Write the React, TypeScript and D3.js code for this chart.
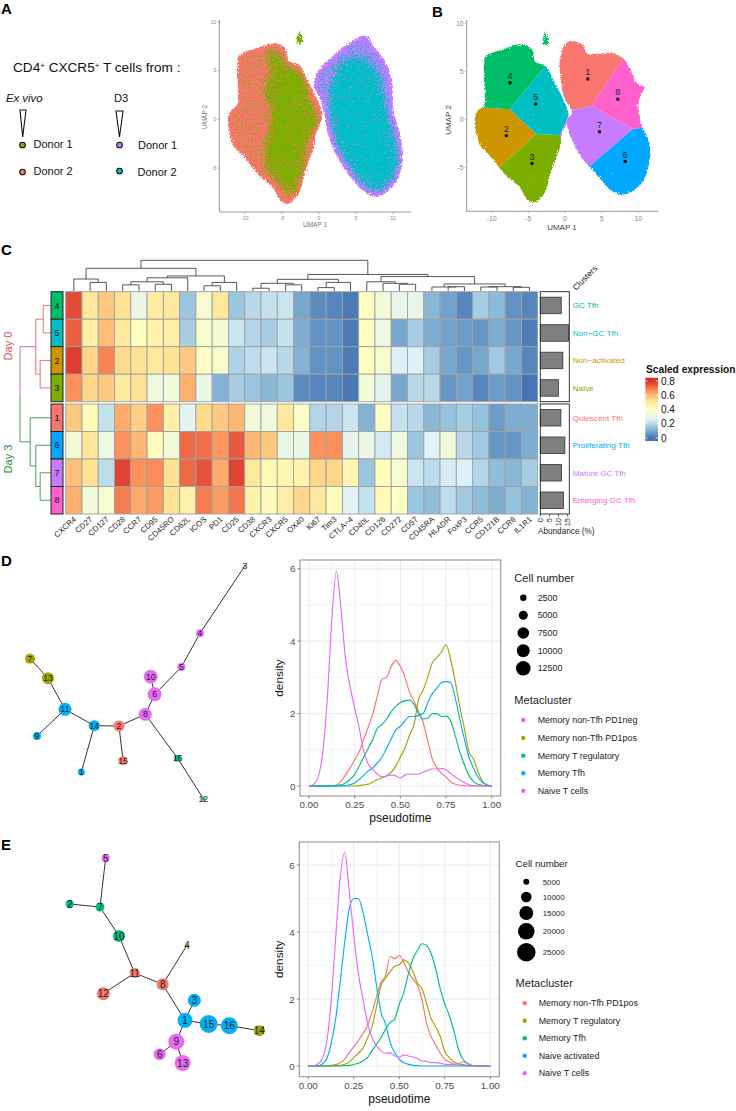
import * as d3 from 'd3'

const FONT = '"Liberation Sans", Arial, sans-serif'

const leftBlob: [number, number][] = [
  [-10.86, 6.53], [-8.82, 7.22], [-6.09, 7.85], [-4.5, 7.4], [-4.05, 6], [-2.68, 5.66], [-1.55, 4.1], [-0.41, 2.36],
  [0.5, 0.45], [-0.41, -1.63], [-0.64, -2.85], [-1.77, -5.28], [-2.9, -7.88], [-4.27, -8.75], [-5.41, -8.23],
  [-6.09, -7.19], [-8.14, -5.8], [-10.18, -3.89], [-11.77, -2.5], [-12.2, 0.63], [-11.09, 1.49], [-11.09, 4.44],
]
const rightBlobB: [number, number][] = [
  [-0.73, 6.35], [0.27, 8.09], [2.55, 7.74], [3, 6.88], [6.64, 6.94], [8, 6.35], [9.36, 4.62], [9.82, 3.75], [10.95, 3.4],
  [10.27, 2.36], [10.05, 1.32], [10.5, -0.59], [11.41, -2.15], [11.64, -3.89], [10.5, -6.67], [8, -7.88], [6.18, -7.36],
  [4.14, -5.63], [2.09, -3.89], [0.73, -1.8], [0.27, -0.07], [0.95, 0.63], [-0.18, 2.36], [-0.64, 4.44],
]
const rightBlobA: [number, number][] = [
  [-0.27, 4.88], [1.97, 6.6], [4.23, 7.97], [6.49, 8.66], [7.16, 7.8], [8.73, 6.26], [9.86, 4.2], [10.08, 0.93], [10.99, -1.47],
  [11.35, -4.23], [10.31, -6.63], [7.84, -8], [5.58, -7.14], [2.43, -3.88], [1.3, -1.82], [0.18, 1.96], [-0.73, 3.33],
]
const oliveShape: [number, number][] = [
  [-7.93, 6.25], [-6.13, 7.8], [-4.55, 7.1], [-4.33, 5.9], [-2.3, 5.4], [-1.18, 4], [-0.5, 1.96], [0.54, 0.24], [0.18, -0.96],
  [-0.95, -2.16], [-1.18, -4.57], [-2.08, -6.29], [-2.97, -8.35], [-4.33, -8.52], [-5.23, -7.32], [-7.49, -5.6], [-7.93, -2.85],
  [-7.03, 0.59], [-8.16, 2.99], [-7.03, 5.39],
]
const tealShape: [number, number][] = [
  [2.88, 6.42], [6.49, 6.77], [8.73, 4.36], [9.64, 1.27], [10.54, -1.48], [11.22, -4.23], [10.08, -6.63], [7.84, -7.84],
  [5.81, -6.98], [2.43, -3.54], [1.53, -1.47], [0.85, 1.96], [1.53, 4.71],
]
const island: [number, number][] = [[-2.75, 9.4], [-2.3, 8.6], [-2.1, 8], [-2.6, 7.6], [-3.1, 7.8], [-2.95, 8.8]]

const clusterIds = [1, 2, 3, 4, 5, 6, 7, 8]
const clusterX = [3.1, -8, -4.5, -7.5, -4, 8.2, 4.7, 7.2]
const clusterY = [4.2, -1.7, -4.6, 3.8, 1.6, -4.4, -1.3, 2.1]
const clusterColors = ['#F8766D', '#CD9600', '#7CAE00', '#00BE67', '#00BFC4', '#00A9FF', '#C77CFF', '#FF61CC']
const umapXTicks = [-10, -5, 0, 5, 10]
const umapYTicks = [-5, 0, 5, 10]

// ---- heatmap
const markers = ['CXCR4', 'CD27', 'CD127', 'CD28', 'CCR7', 'CD95', 'CD45RO', 'CD62L', 'ICOS', 'PD1', 'CD25', 'CD38', 'CXCR3', 'CXCR5',
  'OX40', 'Ki67', 'Tim3', 'CTLA−4', 'CD40L', 'CD126', 'CD272', 'CD57', 'CD45RA', 'HLADR', 'FoxP3', 'CCR5', 'CD121B', 'CCR6', 'IL1R1']
const day0Rows = [4, 5, 2, 3]
const day3Rows = [1, 6, 7, 8]
const expr4 = [.76, .5, .57, .52, .31, .48, .5, .15, .36, .5, .15, .2, .22, .23, .09, .04, .03, .01, .39, .34, .3, .3, .12, .08, .03, .17, .125, .05, .03]
const expr5 = [.73, .47, .59, .5, .4, .45, .47, .17, .37, .35, .23, .19, .17, .22, .1, .05, .05, .01, .39, .32, .09, .17, .1, .08, .07, .06, .1, .06, .015]
const expr2 = [.78, .55, .68, .54, .52, .5, .52, .57, .39, .37, .18, .21, .23, .2, .11, .05, .05, .01, .4, .36, .26, .26, .17, .09, .06, .09, .16, .09, .03]
const expr3 = [.66, .55, .57, .49, .52, .33, .34, .61, .31, .11, .17, .15, .12, .15, .04, .03, .03, .005, .34, .29, .09, .2, .2, .06, .08, .03, .07, .05, 0]
const expr1 = [.57, .42, .22, .62, .56, .66, .47, .28, .54, .57, .6, .35, .33, .5, .38, .19, .19, .23, .11, .39, .22, .2, .12, .14, .17, .14, .07, .1, .1]
const expr6 = [.35, .51, .32, .66, .6, .41, .34, .72, .71, .65, .74, .6, .57, .31, .31, .66, .66, .29, .31, .24, .33, .15, .27, .34, .2, .16, .06, .06, .1]
const expr7 = [.58, .52, .21, .77, .66, .67, .52, .72, .75, .62, .77, .5, .43, .44, .45, .55, .55, .44, .15, .41, .36, .23, .21, .25, .26, .19, .13, .12, .17]
const expr8 = [.61, .34, .36, .69, .62, .64, .52, .46, .69, .64, .7, .46, .42, .47, .55, .5, .41, .27, .22, .42, .39, .15, .13, .21, .16, .13, .1, .14, .11]
const expression: Record<number, number[]> = { 1: expr1, 2: expr2, 3: expr3, 4: expr4, 5: expr5, 6: expr6, 7: expr7, 8: expr8 }
const abundance: Record<number, number> = { 4: 11.5, 5: 15.5, 2: 12.4, 3: 10, 1: 11.3, 6: 13.5, 7: 11.7, 8: 12.8 }
const clusterNames: Record<number, string> = {
  4: 'GC Tfh', 5: 'Non−GC Tfh', 2: 'Non−activated', 3: 'Naïve', 1: 'Quiescent Tfh', 6: 'Proliferating Tfh', 7: 'Mature GC Tfh', 8: 'Emerging GC Tfh',
}
const abundanceTicks = [0, 5, 10, 15]
const legendTicks = [0, 0.2, 0.4, 0.6, 0.8]
const rdYlBu = ['#4575b4', '#91bfdb', '#e0f3f8', '#ffffbf', '#fee090', '#fc8d59', '#d73027']

// dendrograms: merge height + two children, leaves are names
type Tree = { name?: string | number; h: number; children?: Tree[]; pos?: number }
const lf = (name: string | number): Tree => ({ name, h: 0 })
const mg = (h: number, a: Tree, b: Tree): Tree => ({ h, children: [a, b] })

const colTree = mg(1,
  mg(.74,
    mg(.39, lf('CXCR4'), mg(.28, lf('CD27'), lf('CD127'))),
    mg(.49,
      mg(.43, mg(.3, mg(.2, lf('CD28'), lf('CCR7')), mg(.22, lf('CD95'), lf('CD45RO'))), lf('CD62L')),
      mg(.28, mg(.17, lf('ICOS'), lf('PD1')), lf('CD25')))),
  mg(.54,
    mg(.38,
      mg(.25, mg(.09, lf('CD38'), lf('CXCR3')), mg(.2, lf('CXCR5'), lf('OX40'))),
      mg(.28, mg(.11, lf('Ki67'), lf('Tim3')), lf('CTLA−4'))),
    mg(.47,
      mg(.3, lf('CD40L'), mg(.25, lf('CD126'), mg(.22, lf('CD272'), lf('CD57')))),
      mg(.23,
        mg(.13, lf('CD45RA'), mg(.14, lf('HLADR'), lf('FoxP3'))),
        mg(.14, mg(.13, lf('CCR5'), lf('CD121B')), mg(.12, lf('CCR6'), lf('IL1R1')))))))
const day0Tree = mg(.49, mg(.25, lf(4), lf(5)), mg(.35, lf(2), lf(3)))
const day3Tree = mg(.67, lf(1), mg(.49, lf(6), mg(.35, lf(7), lf(8))))

// ---- trajectory networks (layout units)
const metaRed = '#F8766D', metaOlive = '#A3A500', metaGreen = '#00BF7D', metaBlue = '#00B0F6', metaPurple = '#E76BF3'
const netDIds = [1, 2, 3, 4, 5, 6, 7, 8, 9, 10, 11, 12, 13, 14, 15, 16]
const netDX = [244, 357, 735, 600, 544, 464, 90, 436, 111, 452, 195, 610, 144, 283, 369, 533]
const netDY = [666, 528, 47, 250, 351, 433, 326, 493, 558, 380, 478, 746, 385, 527, 632, 625]
const netDSize = [3.5, 5.5, 1, 4, 4, 7, 5, 6.5, 4, 7, 6.5, 2, 6, 5.5, 4.5, 3.5]
const netDColor = [metaBlue, metaRed, '#888888', metaPurple, metaPurple, metaPurple, metaOlive, metaPurple, metaBlue, metaPurple, metaBlue, metaGreen, metaOlive, metaBlue, metaRed, metaGreen]
const netDEdges = [[3, 4], [4, 5], [5, 6], [6, 10], [6, 8], [8, 2], [8, 16], [16, 12], [2, 14], [2, 15], [14, 11], [14, 1], [11, 13], [13, 7], [11, 9]]

const netEIds = [1, 2, 3, 4, 5, 6, 7, 8, 9, 10, 11, 12, 13, 14, 15, 16]
const netEX = [555, 209, 583, 561, 317, 479, 300, 488, 529, 357, 404, 310, 548, 778, 626, 688]
const netEY = [571, 222, 511, 346, 84, 673, 231, 463, 635, 318, 429, 491, 699, 602, 582, 587]
const netESize = [7.5, 4, 6.5, 1.5, 4, 6, 4.5, 6, 8, 6, 5, 6.5, 8, 5.5, 9, 8.5]
const netEColor = [metaBlue, metaGreen, metaBlue, metaOlive, metaPurple, metaPurple, metaGreen, metaRed, metaPurple, metaGreen, metaRed, metaRed, metaPurple, metaOlive, metaBlue, metaBlue]
const netEEdges = [[5, 7], [2, 7], [7, 10], [10, 11], [11, 12], [11, 8], [8, 4], [8, 1], [1, 3], [1, 15], [15, 16], [16, 14], [1, 9], [9, 6], [9, 13]]

// ---- density curves, sampled every 0.025 of pseudotime
const pseudotime = d3.range(41).map(i => i * 0.025)
const dNeg = [0, 0, 0, 0, 0, .005, .03, .13, .3, .5, .72, .95, 1.3, 1.64, 2, 2.5, 2.95, 3, 3.3, 3.47, 3.3, 3, 2.6, 2.35, 2.05, 1.75, 1.25, .75, .5, .35, .25, .12, .05, .02, .01, 0, 0, 0, 0, 0, 0]
const dPos = [0, 0, 0, 0, 0, 0, 0, 0, 0, 0, 0, .01, .03, .05, .12, .18, .22, .28, .38, .55, .8, 1.05, 1.4, 1.7, 2.4, 2.65, 3, 3.4, 3.55, 3.7, 3.9, 3.5, 2.9, 2.2, 1.6, .95, .75, .4, .12, .03, 0]
const dReg = [0, 0, 0, 0, 0, 0, .01, .03, .08, .18, .32, .55, .8, 1.05, 1.3, 1.6, 1.7, 1.85, 2.05, 2.2, 2.3, 2.35, 2.37, 2.25, 2, 1.85, 1.87, 2, 2, 1.92, 1.93, 1.8, 1.4, .95, .6, .3, .12, .05, .02, .01, 0]
const dTfh = [0, 0, 0, 0, 0, 0, 0, 0, .01, .04, .08, .18, .3, .42, .5, .65, .8, 1.05, 1.3, 1.55, 1.65, 1.8, 1.92, 1.92, 1.95, 2, 2.3, 2.55, 2.7, 2.85, 2.88, 2.85, 2.45, 1.85, 1.3, .8, .5, .25, .1, .03, 0]
const dNaive = [0, .05, .25, .9, 2.4, 4.6, 5.93, 4.9, 3.5, 2.75, 2.15, 1.6, .95, .6, .45, .33, .25, .28, .3, .28, .22, .3, .33, .32, .33, .38, .43, .47, .47, .48, .45, .35, .25, .17, .1, .03, .01, 0, 0, 0, 0]

const ePos = [0, 0, 0, 0, .01, .02, .04, .1, .2, .4, .58, .75, .97, 1.2, 1.6, 2.07, 2.5, 2.7, 3.26, 3.2, 3.3, 3.1, 2.8, 2.6, 2.4, 1.97, 1.27, .88, .63, .38, .2, .12, .06, .03, .02, .01, 0, 0, 0, 0, 0]
const eReg = [0, 0, 0, 0, 0, 0, .01, .02, .05, .12, .25, .38, .53, .83, 1.17, 1.77, 2.42, 2.62, 2.82, 2.98, 3.02, 3.17, 3.07, 2.82, 2.47, 2.3, 1.87, 1.42, 1.17, .88, .43, .25, .12, .07, .04, .02, .01, 0, 0, 0, 0]
const eTfh = [0, 0, 0, 0, 0, 0, 0, 0, .01, .02, .05, .08, .15, .25, .45, .65, .85, 1.1, 1.3, 1.4, 1.85, 2.2, 2.75, 3.2, 3.45, 3.65, 3.6, 3.35, 2.9, 2.3, 1.85, 1.5, 1.05, .5, .2, .07, .02, .01, 0, 0, 0]
const eAct = [0, 0, 0, .05, .2, .65, 1.4, 2.5, 3.7, 4.7, 5, 5, 4.6, 3.95, 3.3, 2.4, 1.6, 1.25, .7, .4, .2, .1, .05, .02, .01, 0, 0, 0, 0, 0, 0, 0, 0, 0, 0, 0, 0, 0, 0, 0, 0]
const eNaive = [0, 0, .05, .2, .68, 1.9, 3.8, 5.6, 6.38, 5.2, 3.9, 2.77, 2, 1.3, .85, .6, .45, .38, .4, .3, .27, .33, .3, .27, .22, .15, .14, .1, .1, .08, .05, .04, .04, .07, .12, .08, .02, 0, 0, 0, 0]

const densityXTicks = [0, 0.25, 0.5, 0.75, 1]
const densityXMinor = [0.125, 0.375, 0.625, 0.875]
const densityYTicks = [0, 2, 4, 6]
const densityYMinor = [1, 3, 5]

const legendDSizes = [2500, 5000, 7500, 10000, 12500]
const legendDRadius = [3.2, 4.5, 5.8, 6.5, 7.3]
const legendDNames = ['Memory non-Tfh PD1neg', 'Memory non-Tfh PD1pos', 'Memory T regulatory', 'Memory Tfh', 'Naive T cells']
const legendESizes = [5000, 10000, 15000, 20000, 25000]
const legendERadius = [3, 5.3, 6.9, 8.3, 9.2]
const legendENames = ['Memory non-Tfh PD1pos', 'Memory T regulatory', 'Memory Tfh', 'Naive activated', 'Naive T cells']
const metaColors = [metaRed, metaOlive, metaGreen, metaBlue, metaPurple]

// ---- scales
const heatColor = d3.scaleLinear<string>().domain(rdYlBu.map((_, i) => i * 0.8 / 6)).range(rdYlBu).clamp(true)
const colScale = d3.scaleBand<string>().domain(markers).range([65.7, 537.7])
const row0Scale = d3.scaleBand<number>().domain(day0Rows).range([291.7, 401.7])
const row3Scale = d3.scaleBand<number>().domain(day3Rows).range([404, 514])
const colHeight = d3.scaleLinear().domain([0, 1]).range([291, 260.3])
const rowHeight = d3.scaleLinear().domain([0, 1]).range([51, 20])
const barX = d3.scaleLinear().domain([0, 15]).range([540.3, 567.6])
const legendY = d3.scaleLinear().domain([0, 0.8]).range([438, 381])

function placeTree(tree: Tree, leafPos: (n: Tree) => number) {
  const walk = (n: Tree): number => {
    n.pos = n.children ? d3.mean(n.children.map(walk))! : leafPos(n)
    return n.pos
  }
  walk(tree)
  return d3.hierarchy<Tree>(tree).descendants().filter(d => d.children).map(d => d.data)
}

// horizontal = tree grows left to right (row dendrogram)
function treePath(nodes: Tree[], hs: (h: number) => number, horizontal: boolean) {
  const path = d3.path()
  nodes.forEach(n => {
    const [a, b] = n.children!
    const seg = (p0: number, h0: number, p1: number, h1: number) => {
      if (horizontal) { path.moveTo(hs(h0), p0); path.lineTo(hs(h1), p1) } else { path.moveTo(p0, hs(h0)); path.lineTo(p1, hs(h1)) }
    }
    seg(a.pos!, a.h, a.pos!, n.h)
    seg(a.pos!, n.h, b.pos!, n.h)
    seg(b.pos!, n.h, b.pos!, b.h)
  })
  return path.toString()
}

function outline(points: [number, number][], x: (v: number) => number, y: (v: number) => number) {
  return d3.line<[number, number]>().x(d => x(d[0])).y(d => y(d[1])).curve(d3.curveCatmullRomClosed.alpha(0.5))(points) as string
}

// grainy scatter-like edge: soft alpha + noise, then hard threshold
function Stipple({ id, blur, freq, seed, holes = -1.9 }: { id: string; blur: number; freq: number; seed: number; holes?: number }) {
  return (
    <filter id={id} x="-15%" y="-15%" width="130%" height="130%" colorInterpolationFilters="sRGB">
      <feGaussianBlur in="SourceAlpha" stdDeviation={blur} result="soft" />
      <feTurbulence type="fractalNoise" baseFrequency={freq} numOctaves={2} seed={seed} result="noise" />
      <feColorMatrix in="noise" type="matrix" values="0 0 0 0 0 0 0 0 0 0 0 0 0 0 0 1 0 0 0 0" result="noiseA" />
      <feComposite in="soft" in2="noiseA" operator="arithmetic" k1={0} k2={1.7} k3={2.2} k4={holes} result="mix" />
      <feComponentTransfer in="mix" result="dots">
        <feFuncA type="linear" slope={8} intercept={0} />
      </feComponentTransfer>
      <feComposite in="SourceGraphic" in2="dots" operator="in" />
    </filter>
  )
}

function UmapAxes({ x, y, x0, y0, xEnd, top, tickSize, titleSize, titleColor, xTitle, yTitle }: any) {
  return (
    <g fontFamily={FONT}>
      <line x1={x0} x2={xEnd} y1={y0} y2={y0} stroke="#999" strokeWidth={1} />
      <line x1={x0} x2={x0} y1={top} y2={y0} stroke="#999" strokeWidth={1} />
      {umapXTicks.map(t => (
        <g key={t}>
          <line x1={x(t)} x2={x(t)} y1={y0} y2={y0 + 2} stroke="#999" strokeWidth={0.7} />
          <text x={x(t)} y={y0 + 3 + tickSize} fontSize={tickSize} fill="#888" textAnchor="middle">{t}</text>
        </g>
      ))}
      {umapYTicks.map(t => (
        <g key={t}>
          <line x1={x0} x2={x0 - 2} y1={y(t)} y2={y(t)} stroke="#999" strokeWidth={0.7} />
          <text x={x0 - 3} y={y(t) + tickSize * 0.35} fontSize={tickSize} fill="#888" textAnchor="end">{t}</text>
        </g>
      ))}
      <text x={xTitle[0]} y={xTitle[1]} fontSize={titleSize} fill={titleColor} textAnchor="middle">UMAP 1</text>
      <text transform={`translate(${yTitle[0]},${yTitle[1]}) rotate(-90)`} fontSize={titleSize} fill={titleColor} textAnchor="middle">UMAP 2</text>
    </g>
  )
}

function PanelA() {
  const x = d3.scaleLinear().domain([-10, 10]).range([245, 393])
  const y = d3.scaleLinear().domain([-5, 10]).range([168, 22])
  return (
    <g>
      <path d={outline(leftBlob, x, y)} fill="#F8766D" filter="url(#grainA)" />
      <path d={outline(leftBlob, x, y)} fill="#7CAE00" filter="url(#sparseA)" />
      <path d={outline(oliveShape, x, y)} fill="#7CAE00" filter="url(#mixA)" />
      <path d={outline(island, x, y)} fill="#7CAE00" filter="url(#grainA)" />
      <path d={outline(rightBlobA, x, y)} fill="#C77CFF" filter="url(#grainB)" />
      <path d={outline(rightBlobA, x, y)} fill="#00BFC4" filter="url(#sparseB)" />
      <path d={outline(tealShape, x, y)} fill="#00BFC4" filter="url(#mixB)" />
      <UmapAxes x={x} y={y} x0={219.3} y0={212} xEnd={411} top={20} tickSize={5} titleSize={6.5} titleColor="#777" xTitle={[315, 226.5]} yTitle={[207, 117]} />
    </g>
  )
}

function LegendA() {
  return (
    <g fontFamily={FONT} fill="#111">
      <text x={13} y={72} fontSize={13.6}>
        CD4<tspan dy={-4} fontSize={8}>+</tspan><tspan dy={4}> CXCR5</tspan><tspan dy={-4} fontSize={8}>+</tspan><tspan dy={4}> T cells from :</tspan>
      </text>
      <text x={6} y={102} fontSize={11.3} fontStyle="italic">Ex vivo</text>
      <text x={114} y={102} fontSize={11.2}>D3</text>
      <path d="M20,110 L26,110 L22.7,137 Z" fill="#fff" stroke="#111" strokeWidth={1.1} />
      <path d="M116,111 L123,111 L119.5,137 Z" fill="#fff" stroke="#111" strokeWidth={1.1} />
      <circle cx={22.5} cy={145} r={2.8} fill="#7CAE00" stroke="#111" strokeWidth={1.1} />
      <circle cx={22.5} cy={172} r={2.8} fill="#F8766D" stroke="#111" strokeWidth={1.1} />
      <circle cx={119.5} cy={145} r={2.8} fill="#C77CFF" stroke="#111" strokeWidth={1.1} />
      <circle cx={119.5} cy={171} r={2.8} fill="#00BFC4" stroke="#111" strokeWidth={1.1} />
      <text x={33.5} y={148} fontSize={11}>Donor 1</text>
      <text x={33.5} y={174.5} fontSize={11}>Donor 2</text>
      <text x={138} y={148.5} fontSize={11}>Donor 1</text>
      <text x={137.5} y={175.5} fontSize={11}>Donor 2</text>
    </g>
  )
}

function PanelB() {
  const x = d3.scaleLinear().domain([-10, 10]).range([491.7, 638.3])
  const y = d3.scaleLinear().domain([-5, 10]).range([167.3, 23.3])
  const voronoi = d3.Delaunay.from(clusterIds.map((_, i) => [x(clusterX[i]), y(clusterY[i])])).voronoi([440, 0, 680, 230])
  return (
    <g>
      <mask id="blobMask" maskUnits="userSpaceOnUse" x={440} y={0} width={240} height={230}>
        <g filter="url(#grainMask)">
          <path d={outline(leftBlob, x, y)} fill="#fff" />
          <path d={outline(rightBlobB, x, y)} fill="#fff" />
        </g>
      </mask>
      <g mask="url(#blobMask)">
        {clusterIds.map((c, i) => <path key={c} d={voronoi.renderCell(i)} fill={clusterColors[i]} />)}
      </g>
      <path d={outline(island, x, y)} fill="#00BE67" filter="url(#grainA)" />
      {clusterIds.map((c, i) => (
        <g key={c}>
          <circle cx={x(clusterX[i])} cy={y(clusterY[i])} r={1.7} fill="#000" />
          <text x={x(clusterX[i])} y={y(clusterY[i]) - 3.7} fontSize={9} fontFamily={FONT} fill="#222" textAnchor="middle">{c}</text>
        </g>
      ))}
      <UmapAxes x={x} y={y} x0={466.7} y0={211.3} xEnd={658} top={20} tickSize={6.9} titleSize={8} titleColor="#444" xTitle={[562, 230]} yTitle={[451, 120]} />
    </g>
  )
}

function Heatmap() {
  const colNodes = placeTree(colTree, n => colScale(n.name as string)! + colScale.bandwidth() / 2)
  const rowPos0 = (n: Tree) => row0Scale(n.name as number)! + row0Scale.bandwidth() / 2
  const rowPos3 = (n: Tree) => row3Scale(n.name as number)! + row3Scale.bandwidth() / 2
  const nodes0 = placeTree(day0Tree, rowPos0)
  const nodes3 = placeTree(day3Tree, rowPos3)
  const rootY0 = day0Tree.pos!, rootY3 = day3Tree.pos!
  const rootMid = (rootY0 + rootY3) / 2
  const rows = [
    { ids: day0Rows, scale: row0Scale },
    { ids: day3Rows, scale: row3Scale },
  ]
  const bw = row0Scale.bandwidth()
  const labelColor = (c: number) => clusterColors[c - 1]

  return (
    <g fontFamily={FONT}>
      <path d={treePath(colNodes, colHeight, false)} fill="none" stroke="#444" strokeWidth={0.9} />
      <path d={treePath(nodes0, rowHeight, true)} fill="none" stroke="#e0656b" strokeWidth={0.9} />
      <path d={treePath(nodes3, rowHeight, true)} fill="none" stroke="#3b9447" strokeWidth={0.9} />
      <path d={`M${rowHeight(1)},${rootY0}H${rowHeight(day0Tree.h)}M${rowHeight(1)},${rootY0}V${rootMid}`} fill="none" stroke="#e0656b" strokeWidth={0.9} />
      <path d={`M${rowHeight(1)},${rootY3}H${rowHeight(day3Tree.h)}M${rowHeight(1)},${rootY3}V${rootMid}`} fill="none" stroke="#3b9447" strokeWidth={0.9} />

      {rows.map(({ ids, scale }) => ids.map(c => (
        <g key={c}>
          <rect x={51} y={scale(c)} width={12} height={bw} fill={labelColor(c)} stroke="#222" strokeWidth={1} />
          <text x={57} y={scale(c)! + bw / 2 + 3.2} fontSize={9} fill="#111" textAnchor="middle">{c}</text>
          {markers.map((m, j) => (
            <rect key={m} x={colScale(m)} y={scale(c)} width={colScale.bandwidth()} height={bw}
              fill={heatColor(expression[c][j])} stroke="#a0a0a0" strokeWidth={0.9} />
          ))}
          <rect x={barX(0)} y={scale(c)! + bw * 0.2} width={barX(abundance[c]) - barX(0)} height={bw * 0.6} fill="#7f7f7f" stroke="#333" strokeWidth={0.8} />
          <text x={572.7} y={scale(c)! + bw / 2 + 2.8} fontSize={8.1} fill={labelColor(c)}>{clusterNames[c]}</text>
        </g>
      )))}
      <rect x={540.3} y={291.7} width={29} height={110} fill="none" stroke="#222" strokeWidth={0.9} />
      <rect x={540.3} y={404} width={29} height={110} fill="none" stroke="#222" strokeWidth={0.9} />

      {markers.map(m => (
        <text key={m} transform={`translate(${colScale(m)! + colScale.bandwidth() / 2 + 3},520) rotate(-42)`} fontSize={7.9} fill="#222" textAnchor="end">{m}</text>
      ))}
      <text transform="translate(12,346) rotate(-90)" fontSize={11} fill="#e0565c" textAnchor="middle">Day 0</text>
      <text transform="translate(12,459) rotate(-90)" fontSize={11} fill="#2e8b3a" textAnchor="middle">Day 3</text>
      <text transform="translate(576,291) rotate(-45)" fontSize={8.5} fill="#222">Clusters</text>

      {abundanceTicks.map(t => (
        <g key={t}>
          <line x1={barX(t)} x2={barX(t)} y1={514} y2={516.5} stroke="#222" strokeWidth={0.7} />
          <text transform={`translate(${barX(t) + 2.5},518) rotate(-90)`} fontSize={7.5} fill="#222" textAnchor="end">{t}</text>
        </g>
      ))}
      <text x={538} y={534} fontSize={8.2} fill="#222">Abundance (%)</text>

      <defs>
        <linearGradient id="heatLegend" x1="0" x2="0" y1="1" y2="0">
          {rdYlBu.map((col, i) => <stop key={col} offset={`${(i / 6) * 90 + 5}%`} stopColor={col} />)}
        </linearGradient>
      </defs>
      <text x={646} y={372.7} fontSize={10.2} fontWeight="bold" fill="#111">Scaled expression</text>
      <rect x={645.3} y={377.7} width={12.7} height={63.3} fill="url(#heatLegend)" />
      {legendTicks.map(t => (
        <g key={t}>
          <path d={`M645.3,${legendY(t)}h2.5M658,${legendY(t)}h-2.5`} stroke="#fff" strokeWidth={0.7} />
          <text x={661} y={legendY(t) + 3.5} fontSize={10} fill="#111">{t}</text>
        </g>
      ))}
    </g>
  )
}

function Network({ ids, xs, ys, sizes, colors, edges, offsetY, fontSize }: any) {
  const x = d3.scaleLinear().domain([0, 810]).range([0, 270])
  const y = d3.scaleLinear().domain([0, 810]).range([offsetY, offsetY + 270])
  const at = (id: number) => ids.indexOf(id)
  return (
    <g fontFamily={FONT}>
      {edges.map(([a, b]: number[]) => (
        <line key={`${a}-${b}`} x1={x(xs[at(a)])} y1={y(ys[at(a)])} x2={x(xs[at(b)])} y2={y(ys[at(b)])} stroke="#333" strokeWidth={1} />
      ))}
      {ids.map((id: number, i: number) => (
        <g key={id}>
          <circle cx={x(xs[i])} cy={y(ys[i])} r={sizes[i]} fill={colors[i]} />
          <text x={x(xs[i])} y={y(ys[i]) + fontSize * 0.36} fontSize={fontSize} fill="#222" textAnchor="middle">{id}</text>
        </g>
      ))}
    </g>
  )
}

function Density({ box, xRange, yRange, series, titleY, ylabX }: any) {
  const x = d3.scaleLinear().domain([0, 1]).range(xRange)
  const y = d3.scaleLinear().domain(yRange.domain).range(yRange.range)
  const line = d3.line<number>().x((_, i) => x(pseudotime[i])).y(d => y(d)).curve(d3.curveMonotoneX)
  const [left, top, right, bottom] = box
  return (
    <g fontFamily={FONT}>
      {densityXMinor.map(t => <line key={t} x1={x(t)} x2={x(t)} y1={top} y2={bottom} stroke="#f0f0f0" strokeWidth={0.6} />)}
      {densityYMinor.map(t => <line key={t} x1={left} x2={right} y1={y(t)} y2={y(t)} stroke="#f0f0f0" strokeWidth={0.6} />)}
      {densityXTicks.map(t => <line key={t} x1={x(t)} x2={x(t)} y1={top} y2={bottom} stroke="#ebebeb" strokeWidth={1.1} />)}
      {densityYTicks.map(t => <line key={t} x1={left} x2={right} y1={y(t)} y2={y(t)} stroke="#ebebeb" strokeWidth={1.1} />)}
      {series.map((s: number[], i: number) => (
        <path key={i} d={line(s)!} fill="none" stroke={metaColors[i]} strokeWidth={1.15} />
      ))}
      <rect x={left} y={top} width={right - left} height={bottom - top} fill="none" stroke="#8a8a8a" strokeWidth={1} />
      {densityXTicks.map(t => (
        <g key={t}>
          <line x1={x(t)} x2={x(t)} y1={bottom} y2={bottom + 2.5} stroke="#555" strokeWidth={0.7} />
          <text x={x(t)} y={bottom + 12} fontSize={9.8} fill="#4d4d4d" textAnchor="middle">{d3.format('.2f')(t)}</text>
        </g>
      ))}
      {densityYTicks.map(t => (
        <g key={t}>
          <line x1={left} x2={left - 2.5} y1={y(t)} y2={y(t)} stroke="#555" strokeWidth={0.7} />
          <text x={left - 4.5} y={y(t) + 3.5} fontSize={9.8} fill="#4d4d4d" textAnchor="end">{t}</text>
        </g>
      ))}
      <text x={(left + right) / 2} y={titleY} fontSize={12} fill="#111" textAnchor="middle">pseudotime</text>
      <text transform={`translate(${ylabX},${(top + bottom) / 2}) rotate(-90)`} fontSize={11.8} fill="#111" textAnchor="middle">density</text>
    </g>
  )
}

function DensityLegend({ titleX, sizeTitle, sizeFont, sizeLabel, sizeX, sizeText, sizes, radius, sizeYs, metaTitle, metaX, metaText, names, metaYs }: any) {
  return (
    <g fontFamily={FONT} fill="#222">
      <text x={titleX} y={sizeTitle} fontSize={sizeFont}>Cell number</text>
      {sizes.map((s: number, i: number) => (
        <g key={s}>
          <circle cx={sizeX} cy={sizeYs[i]} r={radius[i]} fill="#000" />
          <text x={sizeText} y={sizeYs[i] + 3} fontSize={sizeLabel}>{s}</text>
        </g>
      ))}
      <text x={titleX} y={metaTitle} fontSize={11.1}>Metacluster</text>
      {names.map((n: string, i: number) => (
        <g key={n}>
          <circle cx={metaX} cy={metaYs[i]} r={2.2} fill={metaColors[i]} />
          <text x={metaText} y={metaYs[i] + 3} fontSize={8.9}>{n}</text>
        </g>
      ))}
    </g>
  )
}

export default function App() {
  const tags: [string, number, number][] = [['A', 1, 14], ['B', 432, 17], ['C', 1, 255], ['D', 1, 566], ['E', 1, 850]]
  return (
    <svg width={736} height={1111} style={{ position: 'absolute', left: 0, top: 0, background: '#fff' }}>
      <defs>
        <Stipple id="grainA" blur={2.4} freq={0.75} seed={3} />
        <Stipple id="grainB" blur={2.6} freq={0.75} seed={8} />
        <Stipple id="sparseA" blur={2.4} freq={0.78} seed={21} holes={-3} />
        <Stipple id="sparseB" blur={2.6} freq={0.78} seed={27} holes={-2.9} />
        <Stipple id="mixA" blur={7} freq={0.7} seed={5} holes={-2.35} />
        <Stipple id="mixB" blur={7} freq={0.7} seed={11} holes={-2.3} />
        <Stipple id="grainMask" blur={2.2} freq={0.75} seed={14} />
      </defs>
      {tags.map(([t, x, y]) => <text key={t} x={x} y={y} fontFamily={FONT} fontWeight="bold" fontSize={15} fill="#000">{t}</text>)}
      <LegendA />
      <PanelA />
      <PanelB />
      <Heatmap />
      <Network ids={netDIds} xs={netDX} ys={netDY} sizes={netDSize} colors={netDColor} edges={netDEdges} offsetY={550} fontSize={8.6} />
      <Density box={[300, 560, 500.7, 796]} xRange={[309, 491.7]} yRange={{ domain: [0, 6], range: [786, 568.7] }}
        series={[dNeg, dPos, dReg, dTfh, dNaive]} titleY={822} ylabX={283} />
      <DensityLegend titleX={514.3} sizeTitle={581.7} sizeFont={11.1} sizeLabel={8.9} sizeX={523.3} sizeText={537.7} sizes={legendDSizes} radius={legendDRadius}
        sizeYs={[597.7, 615.3, 633, 650.7, 668.3]} metaTitle={704.3} metaX={523.3} metaText={537.7} names={legendDNames} metaYs={[720, 738, 755.7, 773.3, 790.7]} />
      <Network ids={netEIds} xs={netEX} ys={netEY} sizes={netESize} colors={netEColor} edges={netEEdges} offsetY={830} fontSize={10} />
      <Density box={[299.3, 842, 499.3, 1076.7]} xRange={[308.3, 490.3]} yRange={{ domain: [0, 6], range: [1066, 865] }}
        series={[ePos, eReg, eTfh, eAct, eNaive]} titleY={1103} ylabX={283} />
      <DensityLegend titleX={515.5} sizeTitle={867.3} sizeFont={9.7} sizeLabel={7.9} sizeX={526.3} sizeText={542.7} sizes={legendESizes} radius={legendERadius}
        sizeYs={[881.7, 897, 913, 931.3, 952.3]} metaTitle={987.3} metaX={524.7} metaText={538.7} names={legendENames} metaYs={[1003.3, 1020.7, 1038.3, 1055.7, 1073.3]} />
    </svg>
  )
}
